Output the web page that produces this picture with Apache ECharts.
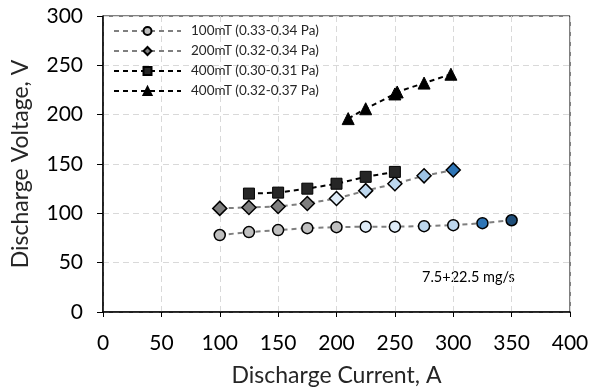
<!DOCTYPE html>
<html>
<head>
<meta charset="utf-8">
<script src="https://cdn.jsdelivr.net/npm/echarts@6/dist/echarts.min.js"></script>
<style>
html, body { margin: 0; padding: 0; background: #fff; }
#main { width: 590px; height: 387px; }
</style>
</head>
<body>
<div id="main"></div>
<script>
// discharge current (A) and voltage (V) per magnetic field setting
var names = ['100mT (0.33-0.34 Pa)', '200mT (0.32-0.34 Pa)', '400mT (0.30-0.31 Pa)', '400mT (0.32-0.37 Pa)'];

var current100 = [100, 125, 150, 175, 200, 225, 250, 275, 300, 325, 350];
var voltage100 = [78, 81, 83, 85, 86, 86.5, 86.5, 87, 88, 90, 93];

var current200 = [100, 125, 150, 175, 200, 225, 250, 275, 300];
var voltage200 = [105, 106, 107, 110, 115, 123, 130, 138, 144];

var current400a = [125, 150, 175, 200, 225, 250];
var voltage400a = [120, 121, 125, 130, 137, 142];

var current400b = [210, 225, 250, 252, 275, 298];
var voltage400b = [196, 206, 221, 223, 232, 241];

// marker fills per point
var fill100 = ['#bfbfbf', '#bfbfbf', '#bfbfbf', '#bfbfbf', '#bfbfbf', '#deebf7', '#deebf7', '#bdd7ee', '#bdd7ee', '#2e75b6', '#1f4e79'];
var fill200 = ['#7f7f7f', '#7f7f7f', '#7f7f7f', '#7f7f7f', '#deebf7', '#bdd7ee', '#bdd7ee', '#9dc3e6', '#2e75b6'];

var FONT = 'Lato';

function pts(xs, ys, fills) {
    return xs.map(function (x, i) {
        var d = { value: [x, ys[i]] };
        if (fills) d.itemStyle = { color: fills[i] };
        return d;
    });
}

var myChart = echarts.init(document.getElementById('main'));
var option = {
    animation: false,
    textStyle: { fontFamily: FONT },
    grid: {
        left: 103, right: 20, top: 16, bottom: 75,
        outerBoundsMode: 'none',
        show: true, borderColor: '#000', borderWidth: 1
    },
    legend: {
        left: 113, top: 24,
        orient: 'vertical',
        padding: 0,
        itemWidth: 67,
        itemHeight: 10,
        itemGap: 6,
        textStyle: { fontFamily: FONT, fontSize: 13.5, lineHeight: 12, color: '#262626', padding: [0, 0, 0, 5] },
        data: names
    },
    xAxis: {
        type: 'value',
        min: 0, max: 400, interval: 50,
        name: 'Discharge Current, A',
        nameLocation: 'middle',
        nameGap: 52,
        nameTextStyle: { fontFamily: FONT, fontSize: 23, color: '#262626' },
        axisLine: { lineStyle: { color: '#000', width: 1.5 } },
        axisTick: { show: true, length: 5, lineStyle: { color: '#000' } },
        axisLabel: { fontFamily: FONT, fontSize: 21, color: '#000', margin: 21 },
        splitLine: { show: true, lineStyle: { color: '#d9d9d9', type: [6, 4] } }
    },
    yAxis: {
        type: 'value',
        min: 0, max: 300, interval: 50,
        name: 'Discharge Voltage, V',
        nameLocation: 'middle',
        nameGap: 71,
        nameTextStyle: { fontFamily: FONT, fontSize: 23, color: '#262626' },
        axisLine: { show: true, lineStyle: { color: '#000', width: 1.5 } },
        axisTick: { show: true, length: 6, lineStyle: { color: '#000' } },
        axisLabel: { fontFamily: FONT, fontSize: 21, color: '#000', margin: 20 },
        splitLine: { show: true, lineStyle: { color: '#d9d9d9', type: [6, 4] } }
    },
    graphic: [{
        type: 'text',
        left: 422, top: 270,
        style: { text: '7.5+22.5 mg/s', fontFamily: FONT, fontSize: 14.5, fill: '#000' }
    }],
    series: [
        {
            name: names[0], type: 'line',
            symbol: 'circle', symbolSize: 11,
            lineStyle: { color: '#7f7f7f', width: 2, type: [5, 4] },
            itemStyle: { color: '#bfbfbf', borderColor: '#000', borderWidth: 1.5 },
            data: pts(current100, voltage100, fill100)
        },
        {
            name: names[1], type: 'line',
            symbol: 'diamond', symbolSize: 14,
            lineStyle: { color: '#7f7f7f', width: 2, type: [5, 4] },
            itemStyle: { color: '#7f7f7f', borderColor: '#000', borderWidth: 1.5 },
            data: pts(current200, voltage200, fill200)
        },
        {
            name: names[2], type: 'line',
            symbol: 'rect', symbolSize: 11,
            lineStyle: { color: '#000', width: 2, type: [5, 4] },
            itemStyle: { color: '#262626', borderColor: '#000', borderWidth: 1 },
            data: pts(current400a, voltage400a)
        },
        {
            name: names[3], type: 'line',
            symbol: 'triangle', symbolSize: 12,
            lineStyle: { color: '#000', width: 2, type: [5, 4] },
            itemStyle: { color: '#000', borderColor: '#000', borderWidth: 1 },
            data: pts(current400b, voltage400b)
        }
    ]
};
myChart.setOption(option);
</script>
</body>
</html>
